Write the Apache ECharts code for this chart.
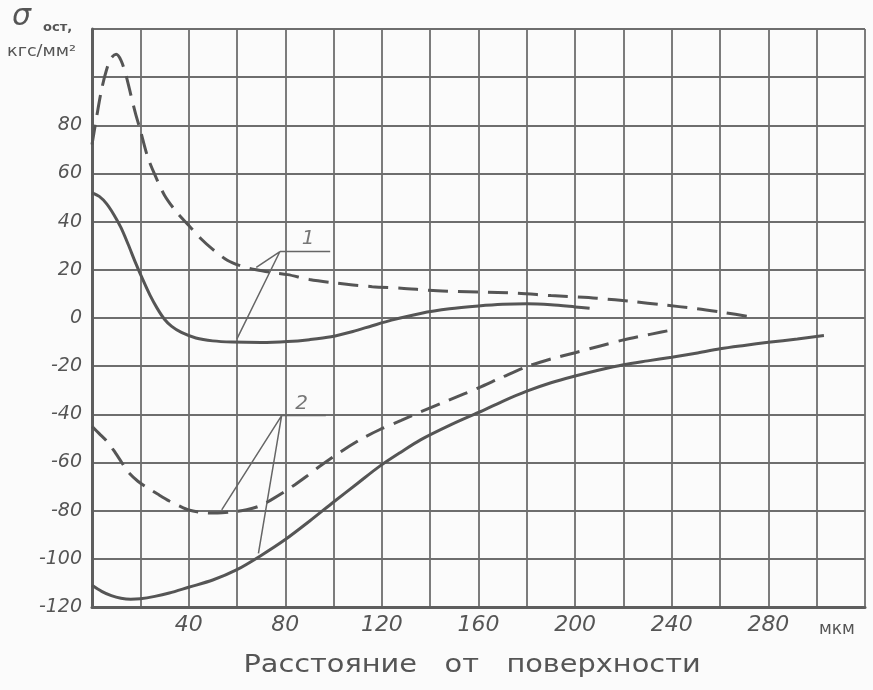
<!DOCTYPE html>
<html>
<head>
<meta charset="utf-8">
<script src="https://cdn.jsdelivr.net/npm/echarts@6/dist/echarts.min.js"></script>
<style>
html,body{margin:0;padding:0;background:#fbfbfb;}
#chart{width:873px;height:690px;}
</style>
</head>
<body>
<div id="chart"></div>
<script>
// ---- data (x: мкм, y: кгс/мм2) ----
const curve1Solid = [[0,52],[3,50.5],[6,47.5],[9,43],[12,37.5],[15,30.5],[18,23],[21,16],[24,9.5],[27,4],[30,-0.5],[33,-3.5],[37,-6],[43,-8.3],[50,-9.5],[58,-10],[70,-10.2],[81,-9.8],[90,-9],[99,-7.8],[108,-5.6],[116,-3.2],[124,-0.9],[136,1.9],[148,3.8],[160,5],[170,5.7],[180,5.9],[190,5.5],[200,4.6],[206,4]];
const curve1Dashed = [[0,72],[2,84],[4,95],[6,103],[8,108],[10,109.5],[12,107],[14,101],[16,93],[18,85],[20,78],[23,67],[26,59.5],[30,51],[35,44],[40,38.5],[45,33],[50,28.5],[56,24],[62,21.5],[68,20],[75,18.8],[81,18],[90,16],[100,14.6],[116,13],[128,12.4],[143,11.3],[160,10.8],[176,10.3],[190,9.3],[209,8.2],[224,6.8],[236,5.5],[250,3.9],[262,2.2],[272,0.6]];
const curve2Dashed = [[0,-45],[3,-48],[6,-51],[9,-55],[12,-59.5],[15,-64],[19,-67.8],[23,-70.5],[27,-73],[32,-76],[36,-78],[40,-79.7],[46,-80.8],[52,-81],[58,-80.5],[64,-79.6],[69,-78.2],[74,-75.6],[79,-72.6],[84,-69.2],[89,-65.6],[94,-61.8],[103,-55.5],[111,-50.5],[119,-46.4],[128,-42.5],[136,-39],[148,-34],[160,-29],[170,-24.5],[180,-20.2],[190,-17],[200,-14.4],[210,-11.7],[220,-9.1],[231,-6.8],[242,-4.6]];
const curve2Solid = [[0,-111],[4,-113.5],[8,-115.3],[12,-116.4],[16,-116.8],[20,-116.6],[26,-115.6],[32,-114.2],[40,-111.8],[50,-108.8],[60,-104.5],[70,-98.6],[80,-92],[90,-84.4],[100,-76.4],[110,-68.6],[119,-61.6],[128,-55.6],[136,-50.6],[148,-44.6],[160,-39.2],[170,-34.6],[180,-30.4],[190,-26.9],[200,-24.1],[210,-21.6],[220,-19.4],[230,-17.8],[240,-16.3],[250,-14.6],[260,-12.8],[270,-11.4],[280,-10.1],[292,-8.7],[303,-7.3]];

// leader lines for the curve labels
const leader1 = [[68,21],[77.8,27.6],[60,-8.7]];
const leader1Bar = [[77.8,27.6],[98.6,27.6]];
const leader2 = [[53.7,-79.7],[78.5,-40.5],[68.9,-97.7]];
const leader2Bar = [[78.5,-40.5],[96.8,-40.5]];
const curveLabels = [[89.5,33,'1'],[86.8,-35.5,'2']];

// axes
const xMin = 0, xMax = 320, xStep = 20;
const yMin = -120, yMax = 120, yStep = 20;
const xTickLabels = [40,80,120,160,200,240,280];
const yTickLabels = [80,60,40,20,0,-20,-40,-60,-80,-100,-120];
const xUnit = 'мкм';
const xTitle = 'Расстояние   от   поверхности';

const ink = '#555555';
const gridInk = '#6e6e6e';
const numFont = 'DejaVu Sans';

const chart = echarts.init(document.getElementById('chart'), null, {renderer:'canvas'});

function curve(data, dashed){
  return {
    type:'line', data:data, smooth:0.3, symbol:'none',
    lineStyle:{color:ink, width:3, type: dashed ? [20,10] : 'solid', cap:'butt'},
    silent:true, z:5
  };
}
function leader(data){
  return {type:'line', data:data, symbol:'none', smooth:false,
    lineStyle:{color:'#666', width:1.5}, silent:true, z:4};
}

chart.setOption({
  backgroundColor:'#fbfbfb',
  animation:false,
  grid:{left:92, right:8, top:29, bottom:83, containLabel:false},
  xAxis:{
    type:'value', min:xMin, max:xMax, interval:xStep,
    axisLine:{show:true, onZero:false, lineStyle:{color:'#5e5e5e', width:3}},
    axisTick:{show:false},
    splitLine:{show:true, lineStyle:{color:gridInk, width:1.8}},
    axisLabel:{
      margin:7, color:ink, fontFamily:numFont, fontStyle:'italic', fontSize:22,
      formatter:function(v){ return xTickLabels.indexOf(v) >= 0 ? String(v) : ''; }
    }
  },
  yAxis:{
    type:'value', min:yMin, max:yMax, interval:yStep,
    axisLine:{show:true, onZero:false, lineStyle:{color:'#5e5e5e', width:3}},
    axisTick:{show:false},
    splitLine:{show:true, lineStyle:{color:gridInk, width:1.8}},
    axisLabel:{
      margin:10, color:ink, fontFamily:numFont, fontStyle:'italic', fontSize:19,
      formatter:function(v){ return yTickLabels.indexOf(v) >= 0 ? String(v) : ''; }
    }
  },
  series:[
    curve(curve1Solid,false),
    curve(curve1Dashed,true),
    curve(curve2Dashed,true),
    curve(curve2Solid,false),
    leader(leader1), leader(leader1Bar), leader(leader2), leader(leader2Bar),
    {
      type:'scatter', data:curveLabels, symbolSize:0, silent:true, z:6,
      label:{show:true, position:'inside', formatter:function(p){return p.data[2];},
        color:ink, fontFamily:numFont, fontStyle:'italic', fontSize:20}
    }
  ],
  graphic:[
    {type:'text', x:12, y:2, style:{text:'σ', fill:ink, font:'italic 30px "DejaVu Sans"'}},
    {type:'text', x:43, y:21, style:{text:'ост,', fill:ink, font:'bold 13px "DejaVu Sans"'}},
    {type:'text', x:7, y:44, scaleX:1.1, style:{text:'кгс/мм²', fill:ink, font:'16px "DejaVu Sans"'}},
    {type:'text', x:819, y:621, style:{text:xUnit, fill:ink, font:'17px "DejaVu Sans"'}},
    {type:'text', x:472, y:666, scaleX:1.2,
      style:{text:xTitle, fill:ink, font:'24px "DejaVu Sans"', align:'center', verticalAlign:'middle'}}
  ]
});
</script>
</body>
</html>
